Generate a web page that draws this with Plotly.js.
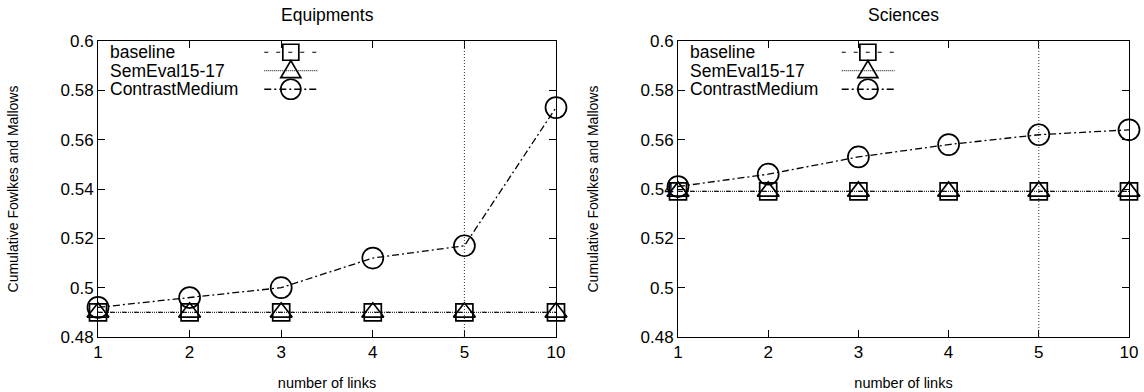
<!DOCTYPE html>
<html>
<head>
<meta charset="utf-8">
<script src="https://cdn.plot.ly/plotly-3.0.1.min.js"></script>
<style>html,body{margin:0;padding:0;background:#fff;}#chart{width:1144px;height:392px;}</style>
</head>
<body>
<div id="chart"></div>
<script>
// ---- data ----
const linkLabels = ["1", "2", "3", "4", "5", "10"];
const panelTitles = ["Equipments", "Sciences"];
const seriesNames = ["baseline", "SemEval15-17", "ContrastMedium"];

const equipBaseline = [0.490, 0.490, 0.490, 0.490, 0.490, 0.490];
const equipSemEval  = [0.490, 0.490, 0.490, 0.490, 0.490, 0.490];
const equipContrast = [0.492, 0.496, 0.500, 0.512, 0.517, 0.573];

const sciBaseline = [0.539, 0.539, 0.539, 0.539, 0.539, 0.539];
const sciSemEval  = [0.539, 0.539, 0.539, 0.539, 0.539, 0.539];
const sciContrast = [0.541, 0.546, 0.553, 0.558, 0.562, 0.564];

const refLinkLabel = "5"; // vertical reference line

// ---- styles ----
const FONT = "Liberation Sans, Arial, Helvetica, sans-serif";
const styles = [
  {dash: "4px,8px", width: 1.2, color: "#000", symbol: "square-open", size: 17},
  {dash: "1px,1px", width: 1.3, color: "#333", symbol: "triangle-up-open", size: 19},
  {dash: "7px,3px,2px,3px", width: 1.3, color: "#000", symbol: "circle-open", size: 21}
];

const xIdx = linkLabels.map((_, i) => i);
const refIdx = linkLabels.indexOf(refLinkLabel);

function mkTraces(vals, ax) {
  return vals.map((v, k) => ({
    type: "scatter", mode: "lines+markers",
    x: xIdx, y: v, name: seriesNames[k],
    xaxis: ax === 1 ? "x" : "x2", yaxis: ax === 1 ? "y" : "y2",
    cliponaxis: false, showlegend: false,
    line: {color: styles[k].color, width: styles[k].width, dash: styles[k].dash},
    marker: {symbol: styles[k].symbol, size: styles[k].size, color: "#000",
             line: {color: "#000", width: 1.7}}
  }));
}

const traces = [
  ...mkTraces([equipBaseline, equipSemEval, equipContrast], 1),
  ...mkTraces([sciBaseline, sciSemEval, sciContrast], 2)
];

function xaxisDef(domain, anchor) {
  return {
    domain: domain, anchor: anchor, range: [0, 5],
    tickvals: xIdx, ticktext: linkLabels,
    ticks: "inside", ticklen: 7, tickcolor: "#000", mirror: "allticks",
    showline: true, linecolor: "#000", linewidth: 1, showgrid: false, zeroline: false,
    tickfont: {family: FONT, size: 17, color: "#000"},
    title: {text: "number of links", font: {family: FONT, size: 14.5, color: "#000"}, standoff: 16}
  };
}
function yaxisDef(anchor) {
  return {
    domain: [0, 1], anchor: anchor, range: [0.48, 0.6],
    tickvals: [0.48, 0.5, 0.52, 0.54, 0.56, 0.58, 0.6],
    ticktext: ["0.48", "0.5", "0.52", "0.54", "0.56", "0.58", "0.6"],
    ticks: "inside", ticklen: 7, tickcolor: "#000", mirror: "allticks",
    showline: true, linecolor: "#000", linewidth: 1, showgrid: false, zeroline: false,
    tickfont: {family: FONT, size: 17, color: "#000"},
    title: {text: "Cumulative Fowlkes and Mallows", font: {family: FONT, size: 14, color: "#000"}, standoff: 38}
  };
}

const shapes = [];
const annotations = [];

[["x", "y"], ["x2", "y2"]].forEach(([xa, ya], p) => {
  // vertical reference line
  shapes.push({type: "line", xref: xa, yref: ya + " domain", x0: refIdx, x1: refIdx, y0: 0, y1: 1,
               line: {color: "#333", width: 1, dash: "1px,2px"}});
  // panel title
  annotations.push({text: panelTitles[p], xref: xa + " domain", yref: "paper",
                    x: 0.5, y: 1, yshift: 26, xanchor: "center", yanchor: "middle", showarrow: false,
                    font: {family: FONT, size: 17.5, color: "#000"}});
  // custom gnuplot-style legend: text, then sample to the right
  const rows = [0.962, 0.900, 0.837];
  seriesNames.forEach((nm, k) => {
    annotations.push({text: nm, xref: xa + " domain", yref: ya + " domain", x: 0.022, y: rows[k],
                      xanchor: "left", yanchor: "middle", showarrow: false,
                      font: {family: FONT, size: 17.5, color: "#000"}});
    shapes.push({type: "line", xref: xa + " domain", yref: ya + " domain", x0: 0.363, x1: 0.480,
                 y0: rows[k], y1: rows[k],
                 line: {color: styles[k].color, width: styles[k].width, dash: styles[k].dash}});
    const base = {xref: xa + " domain", yref: ya + " domain", xsizemode: "pixel", ysizemode: "pixel",
                  xanchor: 0.421, yanchor: rows[k], line: {color: "#000", width: 1.7}};
    if (k === 0) shapes.push(Object.assign({type: "rect", x0: -8, x1: 8, y0: -8, y1: 8}, base));
    if (k === 1) shapes.push(Object.assign({type: "path", path: "M -10,-7 L 10,-7 L 0,10 Z"}, base));
    if (k === 2) shapes.push(Object.assign({type: "circle", x0: -10, x1: 10, y0: -10, y1: 10}, base));
  });
});

const layout = {
  width: 1144, height: 392,
  margin: {l: 0, r: 0, t: 41, b: 55},
  paper_bgcolor: "#fff", plot_bgcolor: "#fff",
  showlegend: false,
  xaxis: xaxisDef([98 / 1144, 556 / 1144], "y"),
  yaxis: yaxisDef("x"),
  xaxis2: xaxisDef([678 / 1144, 1129 / 1144], "y2"),
  yaxis2: yaxisDef("x2"),
  shapes: shapes,
  annotations: annotations
};

Plotly.newPlot("chart", traces, layout, {staticPlot: true});
</script>
</body>
</html>
